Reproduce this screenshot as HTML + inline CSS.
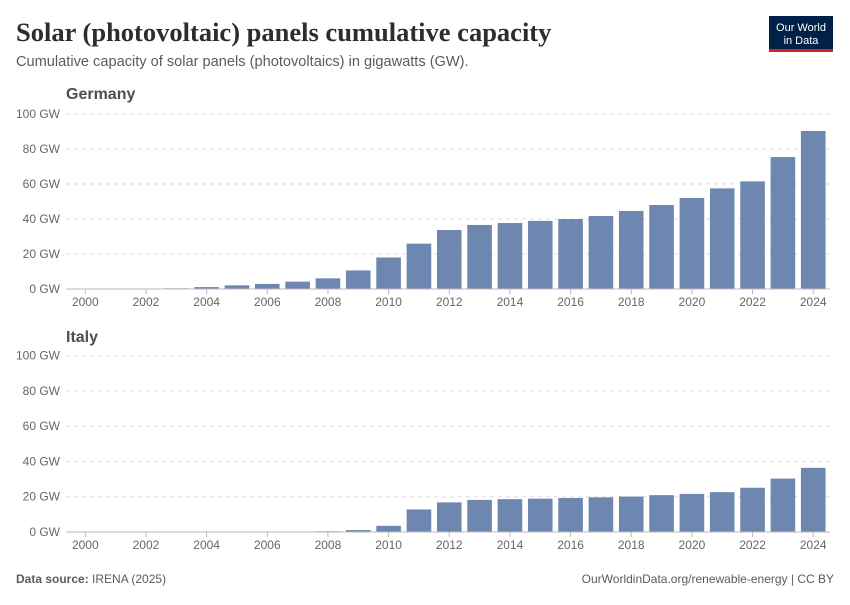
<!DOCTYPE html>
<html><head><meta charset="utf-8"><style>
body{margin:0;background:#fff;width:850px;height:600px;overflow:hidden;font-family:"Liberation Sans",sans-serif}
</style></head><body>
<svg id="c" width="850" height="600" xmlns="http://www.w3.org/2000/svg">
<text x="16" y="41" font-family="Liberation Serif,serif" font-size="26.5" font-weight="bold" fill="#2d2d2d">Solar (photovoltaic) panels cumulative capacity</text>
<text x="16" y="66" font-size="14.6" fill="#5b5b5b">Cumulative capacity of solar panels (photovoltaics) in gigawatts (GW).</text>
<g><rect x="769" y="16" width="64" height="36" fill="#002147"/><rect x="769" y="49" width="64" height="3" fill="#ce261e"/>
<text x="801" y="31" font-size="11" fill="#fff" text-anchor="middle">Our World</text><text x="801" y="44" font-size="11" fill="#fff" text-anchor="middle">in Data</text></g>
<text x="16" y="583" font-size="12" fill="#5b5b5b"><tspan font-weight="bold">Data source:</tspan> IRENA (2025)</text>
<text x="834" y="583" font-size="12" fill="#5b5b5b" text-anchor="end">OurWorldinData.org/renewable-energy | CC BY</text>
</svg>
<script>
const years=[2000,2001,2002,2003,2004,2005,2006,2007,2008,2009,2010,2011,2012,2013,2014,2015,2016,2017,2018,2019,2020,2021,2022,2023,2024];
const germany=[0.1,0.2,0.3,0.4,1.1,2.1,2.9,4.2,6.1,10.6,18,25.9,33.7,36.6,37.7,38.9,40,41.7,44.6,48,52,57.5,61.5,75.4,90.3];
const italy=[0,0,0,0,0,0,0,0,0.4,1.1,3.5,12.8,16.8,18.2,18.6,18.9,19.3,19.7,20.1,20.9,21.6,22.6,25.1,30.3,36.4];
const yTicks=[0,20,40,60,80,100];
const xTicks=[2000,2002,2004,2006,2008,2010,2012,2014,2016,2018,2020,2022,2024];
const NS="http://www.w3.org/2000/svg",svg=document.getElementById('c');
function el(t,a,txt){const e=document.createElementNS(NS,t);for(const k in a)e.setAttribute(k,a[k]);if(txt!=null)e.textContent=txt;svg.appendChild(e);return e;}
const xS=y=>85.3+(y-2000)*30.33;
function panel(name,vals,y0,y100,titleY){
  const yS=v=>y0-(v/100)*(y0-y100);
  const t=el('text',{x:66,y:titleY,'font-size':16,'font-weight':'bold',fill:'#4e4e4e'},name);
  
  
  yTicks.forEach(v=>{
    if(v>0){const g=el('line',{x1:66,x2:830,y1:yS(v),y2:yS(v),stroke:'#ddd','stroke-dasharray':'4,4'});
    
    }
    const l=el('text',{x:60,y:yS(v)+4,'font-size':12,fill:'#666','text-anchor':'end'},v+' GW');
    
    
  });
  years.forEach((yr,i)=>{
    const v=vals[i];if(v<=0)return;
    const b=el('rect',{x:xS(yr)-12.3,y:yS(v),width:24.6,height:y0-yS(v),fill:'#6d87b0'});
    
    
  });
  const ax=el('line',{x1:66,x2:830,y1:y0,y2:y0,stroke:'#bbb','stroke-width':1});
  
  
  xTicks.forEach(yr=>{
    el('line',{x1:xS(yr),x2:xS(yr),y1:y0,y2:y0+5,stroke:'#bbb'});
    const l=el('text',{x:xS(yr),y:y0+17,'font-size':12,fill:'#666','text-anchor':'middle'},yr);
    
    
  });
}
panel('Germany',germany,289,114,99);
panel('Italy',italy,532,355.7,342);
</script>
</body></html>
